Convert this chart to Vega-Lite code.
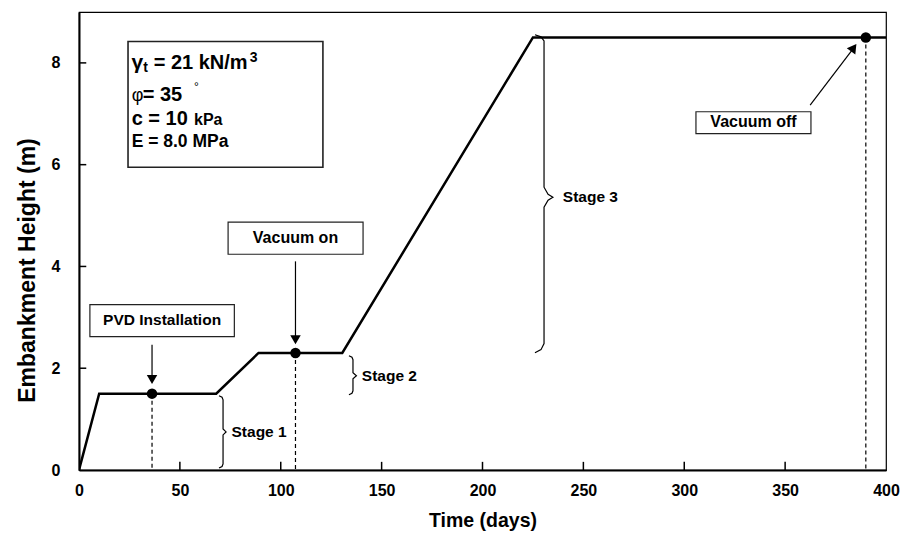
{
  "$schema": "https://vega.github.io/schema/vega-lite/v6.json",
  "width": 807,
  "height": 458,
  "autosize": {"type": "none"},
  "padding": {"left": 79, "top": 12, "right": 16, "bottom": 69},
  "background": "white",
  "config": {
    "view": {"stroke": "#000", "strokeWidth": 1.2},
    "font": "Liberation Sans",
    "axis": {
      "domainColor": "#000", "domainWidth": 2, "ticks": false, "grid": false,
      "labelFont": "Liberation Sans", "labelFontWeight": "bold",
      "labelFontSize": 16, "labelColor": "#000", "titleFont": "Liberation Sans", "titleFontWeight": "bold",
      "titleFontSize": 19.5, "titleColor": "#000", "zindex": 1
    }
  },
  "datasets": {
    "curve": [
      {"t": 0, "h": 0}, {"t": 10, "h": 1.5}, {"t": 68, "h": 1.5}, {"t": 89, "h": 2.3},
      {"t": 130.5, "h": 2.3}, {"t": 225, "h": 8.5}, {"t": 400, "h": 8.5}
    ],
    "xticks": [{"v": 50}, {"v": 100}, {"v": 150}, {"v": 200}, {"v": 250}, {"v": 300}, {"v": 350}],
    "yticks": [{"v": 2}, {"v": 4}, {"v": 6}, {"v": 8}],
    "events": [
      {"event": "PVD Installation", "t": 36.2, "h": 1.5},
      {"event": "Vacuum on", "t": 107.3, "h": 2.3},
      {"event": "Vacuum off", "t": 390, "h": 8.5}
    ],
    "boxes": [
      {"label": "PVD Installation", "x1": 5.4, "x2": 77.0, "y1": 2.62, "y2": 3.25, "tx": 41.2, "ty": 2.94, "w": 1.2, "size": 15.5},
      {"label": "Vacuum on", "x1": 73.9, "x2": 140.8, "y1": 4.24, "y2": 4.87, "tx": 107.3, "ty": 4.55, "w": 1.2, "size": 16},
      {"label": "Vacuum off", "x1": 305.8, "x2": 362.8, "y1": 6.61, "y2": 7.04, "tx": 334.3, "ty": 6.83, "w": 1.2, "size": 16},
      {"label": "", "x1": 24.3, "x2": 120.9, "y1": 5.95, "y2": 8.42, "tx": 72, "ty": 7, "w": 1.6, "size": 15}
    ],
    "shafts": [
      {"a": "PVD", "x1": 36.2, "y1": 2.46, "x2": 36.2, "y2": 1.85},
      {"a": "on", "x1": 107.3, "y1": 4.1, "x2": 107.3, "y2": 2.62},
      {"a": "off", "x1": 362.4, "y1": 7.17, "x2": 384.5, "y2": 8.32}
    ],
    "heads": [
      {"a": "PVD", "t": 36.2, "h": 1.78, "angle": 180},
      {"a": "on", "t": 107.3, "h": 2.56, "angle": 180},
      {"a": "off", "t": 384.0, "h": 8.30, "angle": 36}
    ],
    "braces": [
      {"b": "1", "o": 1, "t": 69.4, "h": 1.458}, {"b": "1", "o": 2, "t": 70.9, "h": 1.429},
      {"b": "1", "o": 3, "t": 71.4, "h": 1.379}, {"b": "1", "o": 4, "t": 71.4, "h": 0.808},
      {"b": "1", "o": 5, "t": 72.9, "h": 0.749}, {"b": "1", "o": 6, "t": 71.4, "h": 0.69},
      {"b": "1", "o": 7, "t": 71.4, "h": 0.118}, {"b": "1", "o": 8, "t": 70.9, "h": 0.069},
      {"b": "1", "o": 9, "t": 69.4, "h": 0.039},
      {"b": "2", "o": 1, "t": 133.8, "h": 2.246}, {"b": "2", "o": 2, "t": 135.3, "h": 2.217},
      {"b": "2", "o": 3, "t": 135.8, "h": 2.167}, {"b": "2", "o": 4, "t": 135.8, "h": 1.911},
      {"b": "2", "o": 5, "t": 137.5, "h": 1.852}, {"b": "2", "o": 6, "t": 135.8, "h": 1.793},
      {"b": "2", "o": 7, "t": 135.8, "h": 1.557}, {"b": "2", "o": 8, "t": 135.3, "h": 1.507},
      {"b": "2", "o": 9, "t": 133.8, "h": 1.478},
      {"b": "3", "o": 1, "t": 226.0, "h": 8.552}, {"b": "3", "o": 2, "t": 229.0, "h": 8.512},
      {"b": "3", "o": 3, "t": 230.5, "h": 8.433}, {"b": "3", "o": 4, "t": 230.5, "h": 5.557},
      {"b": "3", "o": 5, "t": 232.5, "h": 5.419}, {"b": "3", "o": 6, "t": 234.9, "h": 5.36},
      {"b": "3", "o": 7, "t": 232.5, "h": 5.3}, {"b": "3", "o": 8, "t": 230.5, "h": 5.163},
      {"b": "3", "o": 9, "t": 230.5, "h": 2.483}, {"b": "3", "o": 10, "t": 229.0, "h": 2.365},
      {"b": "3", "o": 11, "t": 226.0, "h": 2.305}
    ],
    "stages": [
      {"label": "Stage 1", "t": 75.6, "h": 0.74},
      {"label": "Stage 2", "t": 140.2, "h": 1.85},
      {"label": "Stage 3", "t": 239.8, "h": 5.36}
    ],
    "propsBold": [
      {"piece": "γ", "t": 26.0, "h": 7.88, "size": 21},
      {"piece": "t", "t": 31.9, "h": 7.82, "size": 14},
      {"piece": "= 21 kN/m", "t": 37.0, "h": 7.88, "size": 20},
      {"piece": "3", "t": 84.6, "h": 8.02, "size": 14},
      {"piece": "= 35", "t": 31.6, "h": 7.26, "size": 20},
      {"piece": "c = 10", "t": 26.1, "h": 6.77, "size": 20},
      {"piece": "kPa", "t": 57.0, "h": 6.77, "size": 16},
      {"piece": "E = 8.0 MPa", "t": 26.1, "h": 6.35, "size": 17.5}
    ],
    "propsNormal": [
      {"piece": "φ", "t": 26.1, "h": 7.26, "size": 18},
      {"piece": "°", "t": 57.0, "h": 7.45, "size": 12}
    ]
  },
  "layer": [
    {
      "data": {"name": "curve"},
      "mark": {"type": "line", "color": "#000", "strokeWidth": 2.5, "clip": true},
      "encoding": {
        "x": {"field": "t", "type": "quantitative", "scale": {"domain": [0, 400], "nice": false},
              "axis": {"title": "Time (days)", "values": [0, 50, 100, 150, 200, 250, 300, 350, 400], "labelPadding": 12, "titlePadding": 13, "labelFlush": false}},
        "y": {"field": "h", "type": "quantitative", "scale": {"domain": [0, 9], "nice": false},
              "axis": {"title": "Embankment Height (m)", "values": [0, 2, 4, 6, 8], "labelPadding": 19, "titlePadding": 12, "titleFontSize": 23, "titleY": 258, "labelFlush": false}}
      }
    },
    {
      "data": {"name": "xticks"},
      "mark": {"type": "rule", "color": "#000", "strokeWidth": 1.5},
      "encoding": {
        "x": {"field": "v", "type": "quantitative"},
        "y": {"datum": 0},
        "y2": {"datum": 0.16}
      }
    },
    {
      "data": {"name": "yticks"},
      "mark": {"type": "rule", "color": "#000", "strokeWidth": 1.5},
      "encoding": {
        "y": {"field": "v", "type": "quantitative"},
        "x": {"datum": 0},
        "x2": {"datum": 3.6}
      }
    },
    {
      "data": {"name": "events"},
      "mark": {"type": "rule", "color": "#000", "strokeWidth": 1.2, "strokeDash": [4, 3]},
      "encoding": {
        "x": {"field": "t", "type": "quantitative"},
        "y": {"field": "h", "type": "quantitative"},
        "y2": {"datum": 0}
      }
    },
    {
      "data": {"name": "events"},
      "mark": {"type": "point", "shape": "circle", "filled": true, "color": "#000", "size": 110, "opacity": 1},
      "encoding": {
        "x": {"field": "t", "type": "quantitative"},
        "y": {"field": "h", "type": "quantitative"}
      }
    },
    {
      "data": {"name": "boxes"},
      "mark": {"type": "rect", "fill": "#fff", "stroke": "#222"},
      "encoding": {
        "x": {"field": "x1", "type": "quantitative"},
        "x2": {"field": "x2"},
        "y": {"field": "y1", "type": "quantitative"},
        "y2": {"field": "y2"},
        "strokeWidth": {"field": "w", "type": "quantitative", "scale": null}
      }
    },
    {
      "data": {"name": "boxes"},
      "mark": {"type": "text", "fontWeight": "bold", "color": "#000", "baseline": "middle", "align": "center"},
      "encoding": {
        "x": {"field": "tx", "type": "quantitative"},
        "y": {"field": "ty", "type": "quantitative"},
        "text": {"field": "label"},
        "size": {"field": "size", "type": "quantitative", "scale": null}
      }
    },
    {
      "data": {"name": "shafts"},
      "mark": {"type": "rule", "color": "#000", "strokeWidth": 1.2},
      "encoding": {
        "x": {"field": "x1", "type": "quantitative"},
        "y": {"field": "y1", "type": "quantitative"},
        "x2": {"field": "x2"},
        "y2": {"field": "y2"}
      }
    },
    {
      "data": {"name": "heads"},
      "mark": {"type": "point", "shape": "triangle-up", "filled": true, "color": "#000", "size": 110, "opacity": 1},
      "encoding": {
        "x": {"field": "t", "type": "quantitative"},
        "y": {"field": "h", "type": "quantitative"},
        "angle": {"field": "angle", "type": "quantitative", "scale": null}
      }
    },
    {
      "data": {"name": "braces"},
      "mark": {"type": "line", "color": "#000", "strokeWidth": 1.2},
      "encoding": {
        "x": {"field": "t", "type": "quantitative"},
        "y": {"field": "h", "type": "quantitative"},
        "detail": {"field": "b"},
        "order": {"field": "o", "type": "quantitative"}
      }
    },
    {
      "data": {"name": "stages"},
      "mark": {"type": "text", "fontSize": 15.5, "fontWeight": "bold", "color": "#000", "baseline": "middle", "align": "left"},
      "encoding": {
        "x": {"field": "t", "type": "quantitative"},
        "y": {"field": "h", "type": "quantitative"},
        "text": {"field": "label"}
      }
    },
    {
      "data": {"name": "propsBold"},
      "mark": {"type": "text", "color": "#000", "fontWeight": "bold", "baseline": "alphabetic", "align": "left"},
      "encoding": {
        "x": {"field": "t", "type": "quantitative"},
        "y": {"field": "h", "type": "quantitative"},
        "text": {"field": "piece"},
        "size": {"field": "size", "type": "quantitative", "scale": null}
      }
    },
    {
      "data": {"name": "propsNormal"},
      "mark": {"type": "text", "color": "#000", "fontWeight": "normal", "baseline": "alphabetic", "align": "left"},
      "encoding": {
        "x": {"field": "t", "type": "quantitative"},
        "y": {"field": "h", "type": "quantitative"},
        "text": {"field": "piece"},
        "size": {"field": "size", "type": "quantitative", "scale": null}
      }
    }
  ]
}
